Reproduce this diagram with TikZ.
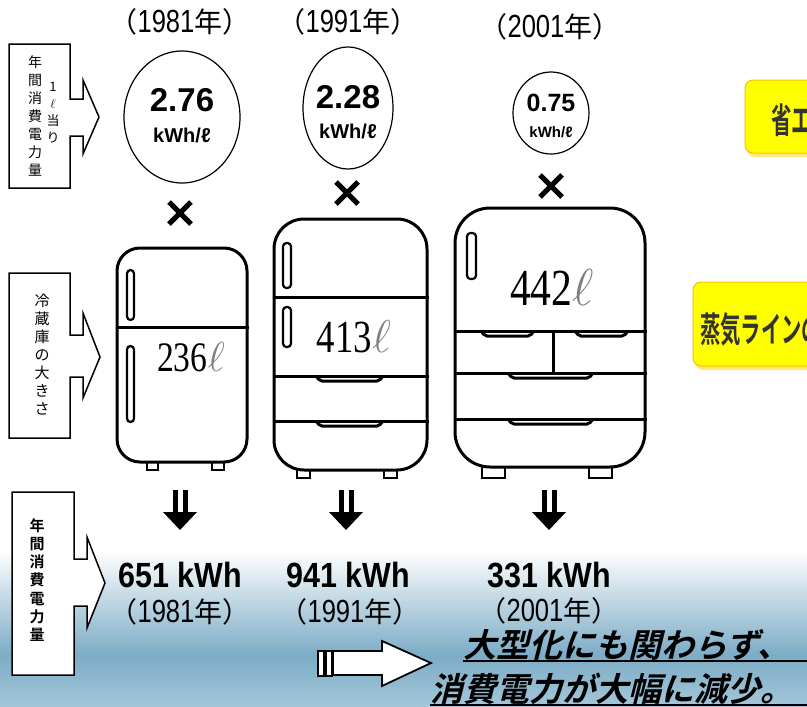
\RequirePackage{fix-cm}
\documentclass[tikz,border=0pt]{standalone}
\usepackage{fontspec}
\usepackage{xcolor}
\usepackage{tikz}
\usetikzlibrary{shapes.geometric}
\setmainfont{Liberation Sans}
\newfontfamily\jpfont{Noto Sans CJK JP}
\newfontfamily\jpbold{Noto Sans CJK JP}[UprightFont=* Bold]
\newfontfamily\jpnarrow{Noto Sans CJK JP}[UprightFont=* Bold, FakeStretch=0.58]
\newfontfamily\jpslant{Noto Sans CJK JP}[UprightFont=* Bold, FakeSlant=0.25]
\newfontfamily\numfont{Liberation Sans}[UprightFont=* Bold, FakeStretch=0.87]
\newfontfamily\yrfont{Liberation Sans}[FakeStretch=0.8]
\newfontfamily\volfont{Liberation Serif}[FakeStretch=0.8]
\definecolor{skyA}{RGB}{124,172,198}
\definecolor{skyB}{RGB}{164,199,216}
\definecolor{boxyellow}{RGB}{255,255,0}
\definecolor{boxedge}{RGB}{255,192,0}
\definecolor{boxshadow}{RGB}{255,232,130}
\definecolor{inkgrey}{RGB}{51,51,51}
\newcommand{\yr}[1]{{\jpfont （}{\yrfont\fontsize{32}{32}\selectfont #1}{\jpfont 年）}}
\newcommand{\lsym}{{\color{gray}$\ell$}}
\tikzstyle{sidebox} = [draw=black, fill=white, line width=1.5pt, line join=miter]
\tikzstyle{vtext} = [align=center, inner sep=0pt, font=\jpfont\fontsize{14}{18}\selectfont]
\tikzstyle{year} = [inner sep=0pt, font=\fontsize{28}{28}\selectfont]
\tikzstyle{rate} = [draw=black, ellipse, line width=1.2pt, inner sep=0pt]
\tikzstyle{valbig} = [inner sep=0pt, font=\bfseries\fontsize{33}{33}\selectfont]
\tikzstyle{unit} = [inner sep=0pt, font=\bfseries\fontsize{20}{20}\selectfont]
\tikzstyle{fridge} = [draw=black, fill=white, line width=3pt, rectangle, inner sep=0pt]
\tikzstyle{foot} = [draw=black, fill=white, line width=2.5pt]
\tikzstyle{handle} = [draw=black, fill=white, line width=2.2pt, rounded corners=3.5pt]
\tikzstyle{pull} = [draw=black, line width=3pt, rounded corners=2pt]
\tikzstyle{kwh} = [inner sep=0pt, font=\numfont\fontsize{35}{35}\selectfont]
\tikzstyle{ybox} = [draw=boxedge, fill=boxyellow, line width=1pt, rounded corners=8pt]
\tikzstyle{ytext} = [inner sep=0pt, text=inkgrey, font=\jpnarrow\fontsize{35}{35}\selectfont]
\tikzstyle{slogan} = [inner sep=0pt, font=\jpslant\fontsize{33}{33}\selectfont]
\tikzset{
  mulmark/.pic={\draw[line width=5pt] (-11,-11) -- (11,11) (-11,11) -- (11,-11);},
  dnarrow/.pic={
    \fill (-7.5,0) rectangle (-2.5,22);
    \fill (2.5,0) rectangle (7.5,22);
    \fill (-17,22) -- (17,22) -- (0,40) -- cycle;}
}

\begin{document}
\begin{tikzpicture}[x=1pt, y=-1pt]
\useasboundingbox (0,0) rectangle (807,707);
\clip (0,0) rectangle (807,707);
\fill[white] (0,0) rectangle (807,707);
\shade[top color=white, bottom color=skyA] (0,550) rectangle (807,655);
\shade[top color=skyA, bottom color=skyB] (0,655) rectangle (807,707);

% row labels on the left
\draw[sidebox] (9,44) -- (70,44) -- (70,99) -- (83,99) -- (83,80) -- (99,117)
  -- (83,154) -- (83,136) -- (70,136) -- (70,188) -- (9,188) -- cycle;
\node[vtext] (side1) at (35,116) {年\\間\\消\\費\\電\\力\\量};
\node[vtext, font=\jpfont\fontsize{13}{17}\selectfont] (side1b) at (53,113) {1\\$\ell$\\当\\り};
\draw[sidebox] (9,273) -- (70,273) -- (70,335) -- (83,335) -- (83,313) -- (100,357)
  -- (83,398) -- (83,377) -- (70,377) -- (70,438) -- (9,438) -- cycle;
\node[vtext, font=\jpfont\fontsize{15}{18}\selectfont] (side2) at (42,355) {冷\\蔵\\庫\\の\\大\\き\\さ};
\draw[sidebox] (12,492) -- (74,492) -- (74,559) -- (87,559) -- (87,537) -- (105,583)
  -- (87,628) -- (87,606) -- (74,606) -- (74,675) -- (12,675) -- cycle;
\node[vtext, font=\jpbold\fontsize{15}{18.3}\selectfont] (side3) at (37,580) {年\\間\\消\\費\\電\\力\\量};

% years
\node[year] (top81) at (180,22) {\yr{1981}};
\node[year] (top91) at (348,22) {\yr{1991}};
\node[year] (top01) at (550,27) {\yr{2001}};

% energy per litre
\node[rate, minimum width=116pt, minimum height=132pt] (e1) at (182,117) {};
\node[valbig] (v1) at (182,100) {2.76};
\node[unit] (u1) at (182,135) {kWh/ℓ};
\node[rate, minimum width=90pt, minimum height=122pt] (e2) at (348,108) {};
\node[valbig] (v2) at (348,97) {2.28};
\node[unit] (u2) at (348,131) {kWh/ℓ};
\node[rate, minimum width=76pt, minimum height=82pt] (e3) at (551,113) {};
\node[valbig, font=\bfseries\fontsize{25}{25}\selectfont] (v3) at (551,103) {0.75};
\node[unit, font=\bfseries\fontsize{15}{15}\selectfont] (u3) at (551,132) {kWh/ℓ};

\pic (m1) at (180,213) {mulmark};
\pic (m2) at (347,193) {mulmark};
\pic (m3) at (551,186) {mulmark};

% refrigerators
\draw[foot] (147,458) rectangle (158,470);
\draw[foot] (212,458) rectangle (224,470);
\node[fridge, rounded corners=23pt, minimum width=130pt, minimum height=214pt] (f1) at (182,355) {};
\draw[line width=3pt] (f1.west |- 0,327) -- (f1.east |- 0,327);
\draw[handle] (127,270) rectangle (134,320);
\draw[handle] (127,346) rectangle (134,422);
\node[inner sep=0pt, font=\volfont\fontsize{42}{42}\selectfont] (c1) at (191,357) {236\lsym};

\draw[foot] (297,465) rectangle (310,478);
\draw[foot] (384,465) rectangle (397,478);
\node[fridge, rounded corners=30pt, minimum width=153pt, minimum height=251pt] (f2) at (350.5,344.5) {};
\foreach \yy in {297,376,421}
  \draw[line width=3pt] (f2.west |- 0,\yy) -- (f2.east |- 0,\yy);
\draw[handle] (283,243) rectangle (291,288);
\draw[handle] (283,307) rectangle (291,347);
\draw[pull] (316,376) -- (320,381) -- (379,381) -- (383,376);
\draw[pull] (316,421) -- (320,426) -- (379,426) -- (383,421);
\node[inner sep=0pt, font=\volfont\fontsize{46}{46}\selectfont] (c2) at (354,337) {413\lsym};

\draw[foot] (482,462) rectangle (505,478);
\draw[foot] (589,462) rectangle (612,478);
\node[fridge, rounded corners=35pt, minimum width=190pt, minimum height=259pt] (f3) at (550,337.5) {};
\foreach \yy in {331,373,419}
  \draw[line width=3pt] (f3.west |- 0,\yy) -- (f3.east |- 0,\yy);
\draw[line width=3pt] (553,331) -- (553,373);
\draw[handle] (467,233) rectangle (476,279);
\draw[pull] (481,331) -- (485,336) -- (530,336) -- (534,331);
\draw[pull] (575,331) -- (579,336) -- (624,336) -- (628,331);
\draw[pull] (508,373) -- (512,378) -- (589,378) -- (593,373);
\draw[pull] (508,419) -- (512,424) -- (589,424) -- (593,419);
\node[inner sep=0pt, font=\volfont\fontsize{52}{52}\selectfont] (c3) at (552,287) {442\lsym};

% yearly consumption
\pic (d1) at (180,490) {dnarrow};
\pic (d2) at (346,490) {dnarrow};
\pic (d3) at (549,490) {dnarrow};
\node[kwh] (k1) at (180,575) {651 kWh};
\node[kwh] (k2) at (348,575) {941 kWh};
\node[kwh] (k3) at (549,575) {331 kWh};
\node[year] (bot81) at (180,612) {\yr{1981}};
\node[year] (bot91) at (350,612) {\yr{1991}};
\node[year] (bot01) at (549,611) {\yr{2001}};

% conclusion
\draw[line width=1.8pt, fill=white] (318,651) rectangle (324,676);
\draw[line width=1.8pt, fill=white] (326,651) rectangle (332,676);
\draw[line width=1.8pt, fill=white, line join=miter] (333,651) -- (382,651) -- (382,641)
  -- (431,663) -- (382,686) -- (382,675) -- (333,675) -- cycle;
\node[slogan, anchor=base west] (msg1) at (463,657) {大型化にも関わらず、};
\node[slogan, anchor=base west] (msg2) at (430,701) {消費電力が大幅に減少。};
\draw[line width=2pt] ([yshift=-4pt]msg1.base west) -- ++(360,0);
\draw[line width=2pt] ([yshift=-4pt]msg2.base west) -- ++(400,0);

% side panels
\fill[boxshadow, rounded corners=8pt] (747,84) rectangle (832,157);
\draw[ybox] (745,80) rectangle (830,153);
\node[ytext, anchor=west] (ytx1) at (771,120) {省エ};
\fill[boxshadow, rounded corners=8pt] (695,286) rectangle (832,370);
\draw[ybox] (693,282) rectangle (830,366);
\node[ytext, anchor=west] (ytx2) at (700,329) {蒸気ラインの};
\end{tikzpicture}
\end{document}
